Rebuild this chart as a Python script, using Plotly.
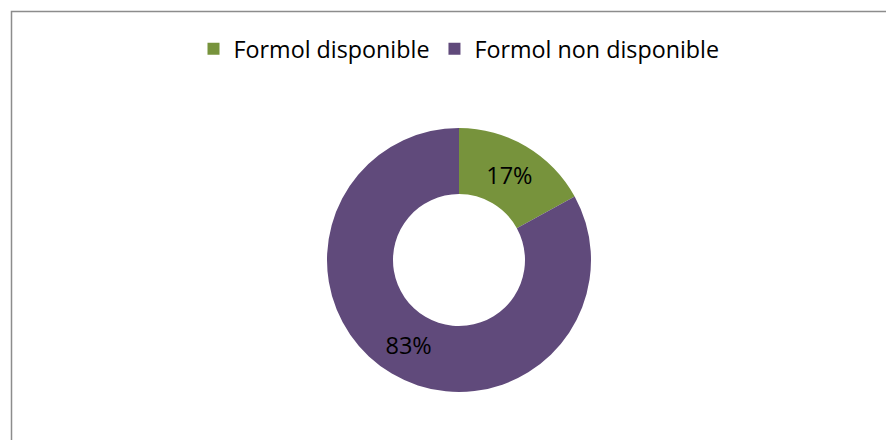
import plotly.graph_objects as go

labels = ["Formol disponible", "Formol non disponible"]
values = [17, 83]
colors = ["#77933C", "#604A7B"]

# page body has an 8px margin; positions below are in figure coordinates
W, H = 886, 432
FONT = "Open Sans, sans-serif"
fig = go.Figure(go.Pie(
    labels=labels, values=values, hole=0.5, sort=False, direction="clockwise",
    rotation=0, marker=dict(colors=colors, line=dict(width=0)),
    textinfo="percent", texttemplate="%{percent:.0%}", textposition="inside",
    insidetextorientation="horizontal",
    textfont=dict(family=FONT, size=23.5, color="black"),
    domain=dict(x=[319 / W, 583 / W], y=[1 - 384 / H, 1 - 120 / H]),
))
fig.update_layout(
    width=W, height=H, margin=dict(l=0, r=0, t=0, b=0),
    paper_bgcolor="white", plot_bgcolor="white",
    font=dict(family=FONT, color="black"),
    showlegend=True,
    legend=dict(orientation="h", x=451 / W, xanchor="center", y=1 - 41 / H, yanchor="middle",
                font=dict(size=23.3, color="black"), itemwidth=30, traceorder="normal"),
    shapes=[dict(type="rect", xref="paper", yref="paper", x0=3.5 / W, x1=1.05, y0=-0.05, y1=1 - 3.5 / H,
                 line=dict(color="#8c8c8c", width=1.5))],
)
fig.write_html("out.html")
